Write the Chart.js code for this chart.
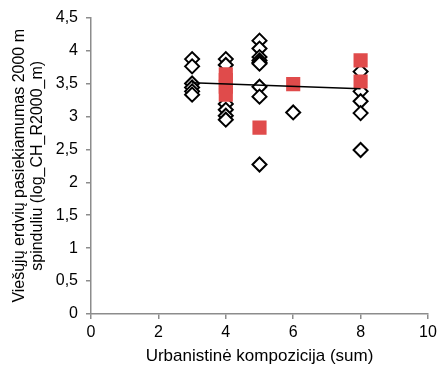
<!DOCTYPE html>
<html>
<head>
<meta charset="utf-8">
<script src="https://cdn.jsdelivr.net/npm/chart.js@4.4.0/dist/chart.umd.min.js"></script>
<style>
  body { margin: 0; background: #fff; }
  #wrap { width: 441px; height: 370px; }
</style>
</head>
<body>
<div id="wrap"><canvas id="chart" width="441" height="370"></canvas></div>
<script>
// observed points (diamonds)
var obsX = [3,3,3,3,3,3, 4,4,4,4,4,4, 5,5,5,5,5,5,5,5,5, 6, 8,8,8,8,8];
var obsY = [3.87,3.76,3.50,3.44,3.38,3.33, 3.87,3.78,3.19,3.10,3.01,2.95,
            4.15,4.03,3.90,3.85,3.82,3.80,3.45,3.30,2.27, 3.06,
            3.68,3.38,3.23,3.05,2.49];
// red squares
var sqX = [4,4,4,4, 5, 6, 8,8];
var sqY = [3.64,3.55,3.45,3.33, 2.83, 3.49, 3.85,3.53];
// trend line
var trendX = [3, 8];
var trendY = [3.51, 3.42];

var xTicks = [0, 2, 4, 6, 8, 10];
var yTitle = ["Viešųjų erdvių pasiekiamumas 2000 m", "spinduliu (log_CH_R2000_m)"];
var xTitle = "Urbanistinė kompozicija (sum)";

function pts(xs, ys) {
  return xs.map(function (x, i) { return {x: x, y: ys[i]}; });
}

var axisColor = "#8c8c8c";
var tickFont = {family: "'Liberation Sans', Arial, sans-serif", size: 16};
var xTitleFont = {family: "'Liberation Sans', Arial, sans-serif", size: 17};
var yTitleFont = {family: "'Liberation Sans', Arial, sans-serif", size: 16, lineHeight: 1.15};

var canvas = document.getElementById("chart");
var config = {
  type: "scatter",
  data: {
    datasets: [{
      type: "line",
      data: pts(trendX, trendY),
      borderColor: "#000",
      borderWidth: 1.5,
      pointRadius: 0,
      fill: false,
      order: 0
    }, {
      data: pts(sqX, sqY),
      pointStyle: "rect",
      pointRadius: 10,
      backgroundColor: "#E04B4B",
      borderColor: "#E04B4B",
      borderWidth: 0,
      order: 1
    }, {
      data: pts(obsX, obsY),
      pointStyle: "rectRot",
      pointRadius: 7,
      backgroundColor: "#fff",
      borderColor: "#000",
      borderWidth: 2,
      order: 2
    }]
  },
  options: {
    responsive: false,
    animation: false,
    layout: {padding: {top: 17, right: 13, bottom: 0, left: 0}},
    plugins: {legend: {display: false}, tooltip: {enabled: false}},
    scales: {
      x: {
        type: "linear",
        min: 0, max: 10,
        afterBuildTicks: function (s) { s.ticks = xTicks.map(function (v) { return {value: v}; }); },
        afterFit: function (s) { s.height = 56; },
        grid: {display: true, drawOnChartArea: false, drawTicks: true, tickLength: 5, color: axisColor, lineWidth: 1.5},
        border: {color: axisColor, width: 1.5},
        ticks: {color: "#000", font: tickFont, padding: 4, maxRotation: 0},
        title: {display: true, text: xTitle, color: "#000", font: xTitleFont, padding: {top: 4, bottom: 3}}
      },
      y: {
        min: 0, max: 4.5,
        afterFit: function (s) { s.width = 91; },
        grid: {display: true, drawOnChartArea: false, drawTicks: true, tickLength: 5, color: axisColor, lineWidth: 1.5},
        border: {color: axisColor, width: 1.5},
        ticks: {
          stepSize: 0.5, color: "#000", font: tickFont, padding: 8,
          callback: function (v) { return String(v).replace(".", ","); }
        },
        title: {display: true, text: yTitle, color: "#000", font: yTitleFont, padding: {top: 10, bottom: 4}}
      }
    }
  }
};
var scatter = new Chart(canvas, config);
</script>
</body>
</html>
